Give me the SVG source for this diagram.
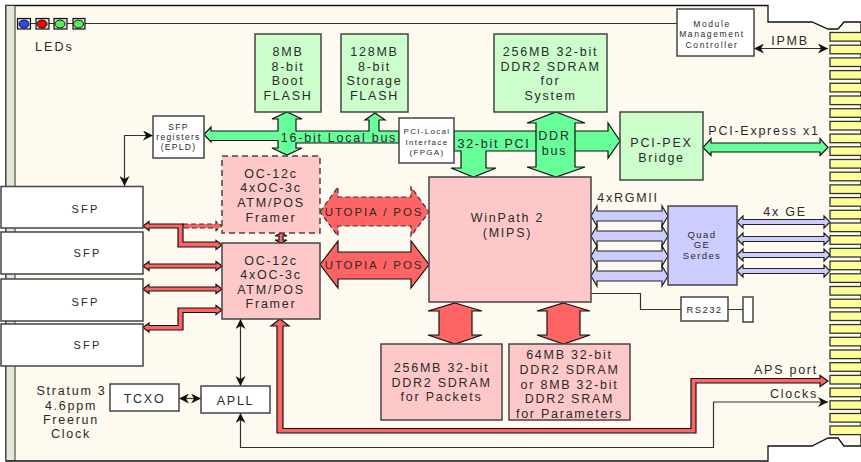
<svg xmlns="http://www.w3.org/2000/svg" width="861" height="462" viewBox="0 0 861 462">
<style>
text{font-family:"Liberation Sans",Arial,sans-serif;fill:#2a2a2a;text-anchor:middle;letter-spacing:1.75px;font-size:12.5px}
.s{font-size:8.5px;letter-spacing:1.3px}
.m{font-size:9.5px;letter-spacing:1.4px}
.f{font-size:11px;letter-spacing:2.2px}
.u{font-size:11.5px;letter-spacing:1.9px}
.l{text-anchor:start}
.box{stroke:#444;stroke-width:1.5}
.w{fill:#fff}.g{fill:#ccffcc}.p{fill:#ffc8c8}.b{fill:#ccccff}
.ga{fill:#66ff99;stroke:#111;stroke-width:1.2}
.ra{fill:#ff6464;stroke:#111;stroke-width:1.2}
.rd{fill:#ff6464;stroke:#333;stroke-width:1.2;stroke-dasharray:5 3}
.ba{fill:#ccccff;stroke:#222;stroke-width:1.2}
.ln{fill:none;stroke:#333;stroke-width:1.2}
.pin{fill:#ffff99;stroke:#333;stroke-width:1.3}
.led{fill:#ddd;stroke:#111;stroke-width:1.2}
</style>
<defs>
<marker id="a" viewBox="0 0 10 10" refX="10" refY="5" markerWidth="10" markerHeight="10" markerUnits="userSpaceOnUse" orient="auto-start-reverse"><path d="M0 0L10 5L0 10L3 5Z" fill="#111"/></marker>
<g id="pg"><rect x="0" y="0" width="34" height="8.6" class="pin"/></g>
</defs>
<path d="M6 5.500H768V22H812L828 29H838L844 22H861V446H844L838 438H828L812 446H768V461H6Z" fill="#fffaf0" stroke="#111" stroke-width="1.3"/>
<rect x="6" y="5.500" width="9" height="455" fill="#e6e6d8" stroke="#333" stroke-width="1"/>
<g id="pins">
<use href="#pg" x="830" y="32.500"/><use href="#pg" x="830" y="45.200"/><use href="#pg" x="830" y="57.900"/><use href="#pg" x="830" y="70.600"/><use href="#pg" x="830" y="83.300"/><use href="#pg" x="830" y="96"/><use href="#pg" x="830" y="108.700"/><use href="#pg" x="830" y="121.400"/><use href="#pg" x="830" y="134.100"/><use href="#pg" x="830" y="146.800"/><use href="#pg" x="830" y="159.500"/><use href="#pg" x="830" y="172.200"/><use href="#pg" x="830" y="184.900"/><use href="#pg" x="830" y="197.600"/><use href="#pg" x="830" y="210.300"/><use href="#pg" x="830" y="223"/><use href="#pg" x="830" y="235.700"/><use href="#pg" x="830" y="248.400"/><use href="#pg" x="830" y="261.100"/><use href="#pg" x="830" y="273.800"/><use href="#pg" x="830" y="286.500"/><use href="#pg" x="830" y="299.200"/><use href="#pg" x="830" y="311.900"/><use href="#pg" x="830" y="324.600"/><use href="#pg" x="830" y="337.300"/><use href="#pg" x="830" y="350"/><use href="#pg" x="830" y="362.700"/><use href="#pg" x="830" y="375.400"/><use href="#pg" x="830" y="388.100"/><use href="#pg" x="830" y="400.800"/><use href="#pg" x="830" y="413.500"/><use href="#pg" x="830" y="426"/>
</g>
<g id="connectors">
<path class="ln" d="M85 23.500H677"/>
<path class="ln" d="M31 23.500H36M49 23.500H54M67 23.500H73"/>
<path class="ln" marker-start="url(#a)" marker-end="url(#a)" d="M153 135.500H124.500V186"/>
<path class="ln" marker-start="url(#a)" marker-end="url(#a)" d="M754 48.500H828"/>
<path class="ln" marker-start="url(#a)" marker-end="url(#a)" d="M240.500 319V386"/>
<path class="ln" marker-start="url(#a)" marker-end="url(#a)" d="M179 398.500H201"/>
<path class="ln" marker-start="url(#a)" marker-end="url(#a)" d="M240.500 413V447.500H713.500V402H828"/>
<path class="ln" d="M591 293.500H640.500V309.500H681M728 309.500H743"/>
<path class="ga" d="M204 134.500L211 127V131H278V119H272L287 112L302 119H296V131H369V120H365L375 113L385 120H379V131H399V143H296V148H302L287 155L272 148H278V140.500H211V142Z"/>
<path class="ga" d="M454 131H608V123L620 141L608 158V151H486V168H496L473.500 177L451 168H461V151H454Z"/>
<path class="ga" d="M556 112L585 123H575V167H585L556 177L527 167H536V123H527Z"/>
<path class="ga" d="M703 147.500L711 138.500V143H820V138.500L828 147.500L820 155.500V152H711V155.500Z"/>
<path class="rd" d="M320 212L338 187V197H411V187L429 212L411 236V226H338V236Z"/>
<path class="ra" d="M320 264.500L338 241V252H411V241L429 264.500L411 288V279H338V288Z"/>
<path class="ra" d="M455 303L482 311H472V335H482L455 344L428 335H439V311H428Z"/>
<path class="ra" d="M563.500 303L590 311H580V335H590L563.500 344L537 335H547V311H537Z"/>
<path class="rd" d="M183 224H216V221.500L222 226L216 230.500V228H183Z"/>
<path class="ra" d="M143 226L149 221.500V224H183V242H216V240.500L222 245L216 249.500V247H178V228H149V230.500Z"/>
<path class="ra" d="M143 266L149 261.500V264H216V261.500L222 266L216 270.500V268H149V270.500Z"/>
<path class="ra" d="M143 289L149 284.500V287H216V284.500L222 289L216 293.500V291H149V293.500Z"/>
<path class="ra" d="M143 327.500L149 323V325.500H178V308H216V305.500L222 310L216 314.500V312.500H183V330H149V332Z"/>
<path class="ra" d="M281 233L287 236H283V240H287L281 243L275 240H279V236H275Z"/>
<path class="ra" d="M280 319L289 326H283V428.500H691V378.500H820V375.500L828 381L820 386.500V383H696V433H277V326H271Z"/>
<g id="rgmii">
<path class="ba" d="M591 216L597 206V211H662V206L668 216L662 226V221H597V226Z"/>
<path class="ba" d="M591 236L597 226V231H662V226L668 236L662 246V241H597V246Z"/>
<path class="ba" d="M591 256L597 246V251H662V246L668 256L662 266V261H597V266Z"/>
<path class="ba" d="M591 276L597 266V271H662V266L668 276L662 286V281H597V286Z"/>
</g>
<g id="ge">
<path class="ba" d="M737 222L743 216V219.500H824V216L830 222L824 228V224.500H743V228Z"/>
<path class="ba" d="M737 239L743 233V236.500H824V233L830 239L824 245V241.500H743V245Z"/>
<path class="ba" d="M737 255L743 249V252.500H824V249L830 255L824 261V257.500H743V261Z"/>
<path class="ba" d="M737 271L743 265V268.500H824V265L830 271L824 277V273.500H743V277Z"/>
</g>
</g>
<g id="leds">
<rect class="led" x="17.500" y="18.500" width="13" height="10.500"/><ellipse cx="24" cy="24" rx="5" ry="4" fill="#3344ff" stroke="#111"/>
<rect class="led" x="36" y="18.500" width="13" height="10.500"/><ellipse cx="42" cy="24" rx="5" ry="4" fill="#ff0000" stroke="#111"/>
<rect class="led" x="54" y="18.500" width="13" height="10.500"/><ellipse cx="60" cy="24" rx="5" ry="4" fill="#55ee55" stroke="#111"/>
<rect class="led" x="73" y="18.500" width="12" height="10.500"/><ellipse cx="78.500" cy="24" rx="5" ry="4" fill="#55ee55" stroke="#111"/>
<text class="l" x="35" y="51" style="letter-spacing:2.1px">LEDs</text>
</g>
<g id="sfp-registers"><rect class="box w" x="153" y="116" width="51" height="42"/><text class="s" x="178.500" y="130">SFP</text><text class="s" x="178.500" y="140">registers</text><text class="s" x="178.500" y="150">(EPLD)</text></g>
<g id="boot-flash"><rect class="box g" x="255" y="34" width="66" height="78"/><text x="288" y="56">8MB</text><text x="288" y="71">8-bit</text><text x="288" y="85">Boot</text><text x="288" y="100">FLASH</text></g>
<g id="storage-flash"><rect class="box g" x="341" y="34" width="67" height="78"/><text x="374.500" y="56">128MB</text><text x="374.500" y="71">8-bit</text><text x="374.500" y="85">Storage</text><text x="374.500" y="100">FLASH</text></g>
<g id="system-ddr"><rect class="box g" x="494" y="34" width="113" height="78"/><text x="550.500" y="56">256MB 32-bit</text><text x="550.500" y="71">DDR2 SDRAM</text><text x="550.500" y="85">for</text><text x="550.500" y="100">System</text></g>
<g id="pci-local"><rect class="box w" x="399" y="118" width="55" height="45"/><text class="s" x="427" y="134" style="font-size:8px">PCI-Local</text><text class="s" x="427" y="145" style="font-size:8px">Interface</text><text class="s" x="427" y="155" style="font-size:8px">(FPGA)</text></g>
<g id="pci-pex"><rect class="box g" x="620" y="112" width="83" height="68"/><text x="661.500" y="147">PCI-PEX</text><text x="661.500" y="162">Bridge</text></g>
<g id="mmc"><rect class="box w" x="677" y="9" width="77" height="47"/><text class="s" x="712" y="27" style="letter-spacing:1.6px">Module</text><text class="s" x="712" y="37" style="letter-spacing:1.6px">Management</text><text class="s" x="712" y="48" style="letter-spacing:1.6px">Controller</text></g>
<g id="framer-a"><rect class="box p" x="222" y="156" width="98" height="77" stroke-dasharray="6 4"/><text x="271" y="178">OC-12c</text><text x="271" y="192">4xOC-3c</text><text x="271" y="207">ATM/POS</text><text x="271" y="222">Framer</text></g>
<g id="framer-b"><rect class="box p" x="222" y="243" width="98" height="76"/><text x="271" y="265">OC-12c</text><text x="271" y="279">4xOC-3c</text><text x="271" y="294">ATM/POS</text><text x="271" y="308">Framer</text></g>
<g id="winpath"><rect class="box p" x="429" y="177" width="162" height="125"/><text x="507.500" y="222">WinPath 2</text><text x="507.500" y="237">(MIPS)</text></g>
<g id="quad-ge"><rect class="box b" x="668" y="206" width="69" height="79"/><text class="m" x="702" y="238">Quad</text><text class="m" x="702" y="248">GE</text><text class="m" x="702" y="259">Serdes</text></g>
<g id="rs232"><rect class="box w" x="681" y="297" width="47" height="24"/><text class="m" x="704.500" y="313">RS232</text></g>
<g id="serial-port"><rect class="box w" x="743" y="297" width="10" height="25"/></g>
<g id="packet-ddr"><rect class="box p" x="381" y="344" width="121" height="76"/><text x="441.500" y="372">256MB 32-bit</text><text x="441.500" y="387">DDR2 SDRAM</text><text x="441.500" y="401">for Packets</text></g>
<g id="param-mem"><rect class="box p" x="509" y="344" width="121" height="76"/><text x="569.500" y="359">64MB 32-bit</text><text x="569.500" y="374">DDR2 SDRAM</text><text x="569.500" y="389">or 8MB 32-bit</text><text x="569.500" y="403">DDR2 SRAM</text><text x="569.500" y="418">for Parameters</text></g>
<g id="tcxo"><rect class="box w" x="110" y="384" width="69" height="27"/><text x="144.500" y="403">TCXO</text></g>
<g id="apll"><rect class="box w" x="201" y="386" width="69" height="27"/><text x="235.500" y="405">APLL</text></g>
<g id="sfp1"><rect class="box w" x="1" y="186.500" width="142" height="41.500"/><text class="f" x="85.500" y="213">SFP</text></g>
<g id="sfp2"><rect class="box w" x="1" y="232" width="142" height="42"/><text class="f" x="87.500" y="257">SFP</text></g>
<g id="sfp3"><rect class="box w" x="1" y="279" width="142" height="42"/><text class="f" x="85.500" y="306">SFP</text></g>
<g id="sfp4"><rect class="box w" x="1" y="324" width="142" height="42"/><text class="f" x="87.500" y="349">SFP</text></g>
<g id="labels">
<text x="71.500" y="395">Stratum 3</text><text x="71" y="409.500">4.6ppm</text><text x="71" y="424">Freerun</text><text x="71" y="437.500">Clock</text>
<text x="339" y="142">16-bit Local bus</text>
<text x="494" y="148">32-bit PCI</text>
<text x="554.500" y="140">DDR</text><text x="554.500" y="155">bus</text>
<text class="u" x="374" y="216">UTOPIA / POS</text>
<text class="u" x="374" y="268.500">UTOPIA / POS</text>
<text x="790" y="45">IPMB</text>
<text x="764" y="135">PCI-Express x1</text>
<text x="628" y="202">4xRGMII</text>
<text x="785" y="216">4x GE</text>
<text x="786" y="374">APS port</text>
<text x="794" y="398">Clocks</text>
</g>
</svg>
